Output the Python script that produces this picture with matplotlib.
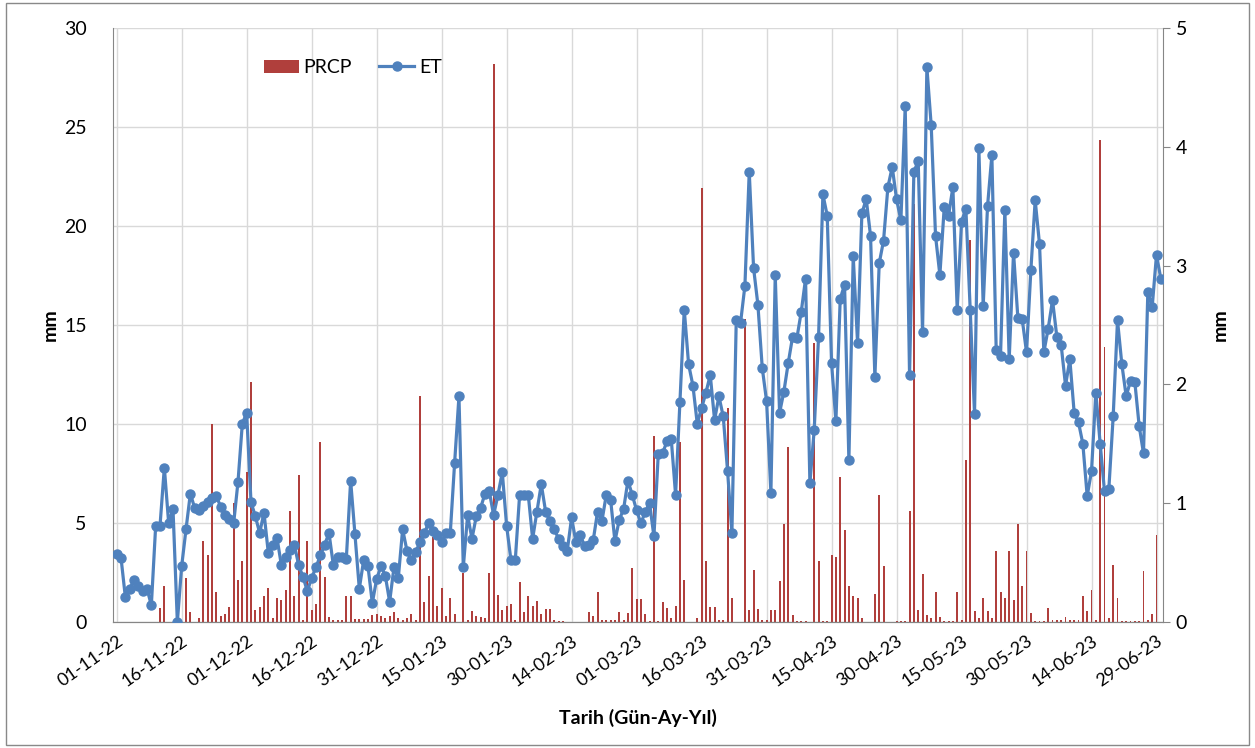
import pandas as pd
import matplotlib.pyplot as plt
from matplotlib.patches import Rectangle

plt.rcParams['font.family'] = ['Lato', 'DejaVu Sans']

### Daily series 01-11-2022 .. 30-06-2023
dates = pd.date_range('2022-11-01', '2023-06-30', freq='D')

# PRCP (mm, left axis)
prcp = [
    0, 0, 0, 0, 0, 0, 0, 0, 0, 0,
    0.7, 1.8, 0, 0, 0, 0, 2.2, 0.5, 0, 0.2,
    4.1, 3.4, 10.0, 1.5, 0.3, 0.4, 0.75, 6.0, 2.1, 3.1,
    7.6, 12.1, 0.6, 0.75, 1.3, 1.7, 0.2, 1.2, 1.1, 1.6,
    5.6, 1.3, 7.4, 0.1, 4.1, 0.6, 0.9, 9.1, 2.25, 0.25,
    0.1, 0.1, 0.1, 1.3, 1.3, 0.15, 0.15, 0.15, 0.15, 0.35,
    0.4, 0.3, 0.2, 0.3, 0.5, 0.2, 0.1, 0.2, 0.4, 0.1,
    11.4, 1.0, 2.3, 4.3, 0.8, 1.7, 0.3, 1.2, 0.4, 0,
    2.5, 0.1, 0.55, 0.3, 0.25, 0.2, 2.45, 28.2, 1.35, 0.6,
    0.8, 0.9, 0.1, 2.0, 0.5, 1.3, 0.8, 1.05, 0.4, 0.65,
    0.65, 0.1, 0.05, 0.05, 0, 0, 0, 0, 0, 0.5,
    0.3, 1.5, 0.1, 0.1, 0.1, 0.1, 0.5, 0.1, 0.45, 2.75,
    1.15, 1.15, 0.4, 0.05, 9.4, 0.05, 1.0, 0.7, 0.2, 0.8,
    9.1, 2.1, 0, 0, 0.2, 21.9, 3.1, 0.75, 0.75, 0.1,
    0.1, 10.8, 1.2, 0, 0, 15.3, 0.6, 2.65, 0.65, 0.1,
    0.1, 0.6, 0.6, 2.05, 4.95, 8.85, 0.35, 0.05, 0.05, 0.05,
    0, 14.1, 3.1, 0.05, 0.05, 3.4, 3.3, 7.3, 4.65, 1.8,
    1.3, 1.2, 0.2, 0, 0, 1.4, 6.4, 2.85, 0, 0,
    0.05, 0.05, 0.05, 5.6, 21.1, 0.6, 2.4, 0.35, 0.2, 1.5,
    0.25, 0.05, 0.05, 0.05, 1.5, 0.1, 8.2, 19.3, 0.55, 0.2,
    1.2, 0.55, 0.2, 3.6, 1.5, 1.2, 3.6, 1.1, 4.95, 1.8,
    3.6, 0.45, 0.05, 0.05, 0.05, 0.7, 0.1, 0.1, 0.1, 0.25,
    0.1, 0.1, 0.1, 1.3, 0.55, 1.6, 0.1, 24.35, 13.9, 0.2,
    2.9, 1.2, 0.05, 0.05, 0.05, 0.05, 0.05, 2.6, 0.1, 0.4,
    4.4, 0,
]

# ET (mm, right axis)
et = [
    0.57, 0.54, 0.21, 0.28, 0.35, 0.30, 0.26, 0.28, 0.14, 0.81,
    0.81, 1.30, 0.83, 0.95, 0.00, 0.47, 0.78, 1.08, 0.96, 0.94,
    0.98, 1.01, 1.04, 1.06, 0.97, 0.90, 0.87, 0.83, 1.18, 1.67,
    1.76, 1.01, 0.89, 0.75, 0.92, 0.58, 0.65, 0.71, 0.48, 0.55,
    0.61, 0.65, 0.48, 0.38, 0.26, 0.37, 0.46, 0.56, 0.65, 0.75,
    0.48, 0.55, 0.55, 0.53, 1.19, 0.74, 0.28, 0.52, 0.47, 0.16,
    0.36, 0.47, 0.39, 0.17, 0.46, 0.37, 0.78, 0.60, 0.52, 0.59,
    0.67, 0.75, 0.83, 0.77, 0.73, 0.67, 0.75, 0.75, 1.34, 1.90,
    0.46, 0.90, 0.70, 0.89, 0.96, 1.08, 1.10, 0.90, 1.07, 1.26,
    0.81, 0.52, 0.52, 1.07, 1.07, 1.07, 0.70, 0.93, 1.16, 0.93,
    0.85, 0.78, 0.70, 0.64, 0.60, 0.88, 0.67, 0.73, 0.64, 0.65,
    0.69, 0.93, 0.85, 1.07, 1.03, 0.68, 0.86, 0.95, 1.19, 1.07,
    0.94, 0.83, 0.93, 1.00, 0.72, 1.41, 1.42, 1.52, 1.54, 1.07,
    1.85, 2.63, 2.17, 1.99, 1.67, 1.80, 1.93, 2.08, 1.70, 1.90,
    1.73, 1.27, 0.75, 2.54, 2.52, 2.83, 3.79, 2.98, 2.67, 2.14,
    1.86, 1.09, 2.92, 1.76, 1.94, 2.18, 2.40, 2.39, 2.61, 2.89,
    1.17, 1.62, 2.40, 3.60, 3.42, 2.18, 1.69, 2.72, 2.84, 1.36,
    3.08, 2.35, 3.44, 3.56, 3.25, 2.06, 3.02, 3.21, 3.66, 3.83,
    3.56, 3.38, 4.34, 2.08, 3.79, 3.88, 2.44, 4.67, 4.18, 3.25,
    2.92, 3.49, 3.42, 3.66, 2.63, 3.37, 3.48, 2.63, 1.75, 3.99,
    2.66, 3.50, 3.93, 2.29, 2.24, 3.47, 2.21, 3.11, 2.56, 2.55,
    2.27, 2.96, 3.55, 3.18, 2.27, 2.47, 2.71, 2.40, 2.33, 1.99,
    2.21, 1.76, 1.68, 1.50, 1.06, 1.27, 1.93, 1.50, 1.10, 1.12,
    1.73, 2.54, 2.17, 1.90, 2.03, 2.02, 1.65, 1.42, 2.78, 2.65,
    3.09, 2.89,
]

tick_labels = ['01-11-22', '16-11-22', '01-12-22', '16-12-22', '31-12-22',
               '15-01-23', '30-01-23', '14-02-23', '01-03-23', '16-03-23',
               '31-03-23', '15-04-23', '30-04-23', '15-05-23', '30-05-23',
               '14-06-23', '29-06-23']

x = (dates - dates[0]).days

fig = plt.figure(figsize=(12.55, 7.48), dpi=100)
ax1 = fig.add_axes([113 / 1255, 1 - 622 / 748, 1050 / 1255, 594 / 748])

### Bars (PRCP) on left axis
ax1.bar(x, prcp, width=0.45, color='#B03F3C', label='PRCP', zorder=2)
ax1.set_ylim(0, 30)
ax1.set_yticks(range(0, 31, 5))
ax1.set_xlim(-0.85, 241.5)
ax1.set_xticks(x[::15])
ax1.set_xticklabels(tick_labels, rotation=35, ha='right', rotation_mode='anchor', fontsize=13)
ax1.grid(color='#D9D9D9', lw=1)
ax1.set_axisbelow(True)
ax1.set_ylabel('mm', fontsize=14, fontweight='bold', labelpad=4)
ax1.tick_params(axis='y', labelsize=14, length=0, pad=19)
ax1.tick_params(axis='x', length=0, pad=8)

### Line (ET) on right axis
ax2 = ax1.twinx()
ax2.plot(x, et, color='#4F81BD', lw=2.3, marker='o', ms=6.5, label='ET', zorder=3)
ax2.set_ylim(0, 5)
ax2.set_yticks(range(0, 6))
ax2.set_ylabel('mm', fontsize=14, fontweight='bold', labelpad=18)
ax2.tick_params(axis='y', labelsize=14, length=5, color='#868686', pad=4)

for ax in (ax1, ax2):
    ax.spines['top'].set_visible(False)
    for s in ('left', 'bottom', 'right'):
        ax.spines[s].set_color('#868686')
ax1.spines['right'].set_visible(False)
ax2.spines['left'].set_visible(False)

### Legend from both axes
h1, l1 = ax1.get_legend_handles_labels()
h2, l2 = ax2.get_legend_handles_labels()
ax2.legend(h1 + h2, l1 + l2, loc='center left', bbox_to_anchor=(0.127, 0.933),
           ncol=2, frameon=False, fontsize=14, handlelength=1.8, columnspacing=1.4,
           handletextpad=0.25)

fig.text(0.508, 0.04, 'Tarih (Gün-Ay-Yıl)', ha='center', va='center',
         fontsize=14, fontweight='bold')

### Chart area border
fig.patches.append(Rectangle((0.005, 0.004), 0.99, 0.992, transform=fig.transFigure,
                             fill=False, ec='#898989', lw=1))

fig.savefig('out.png', dpi=100)
